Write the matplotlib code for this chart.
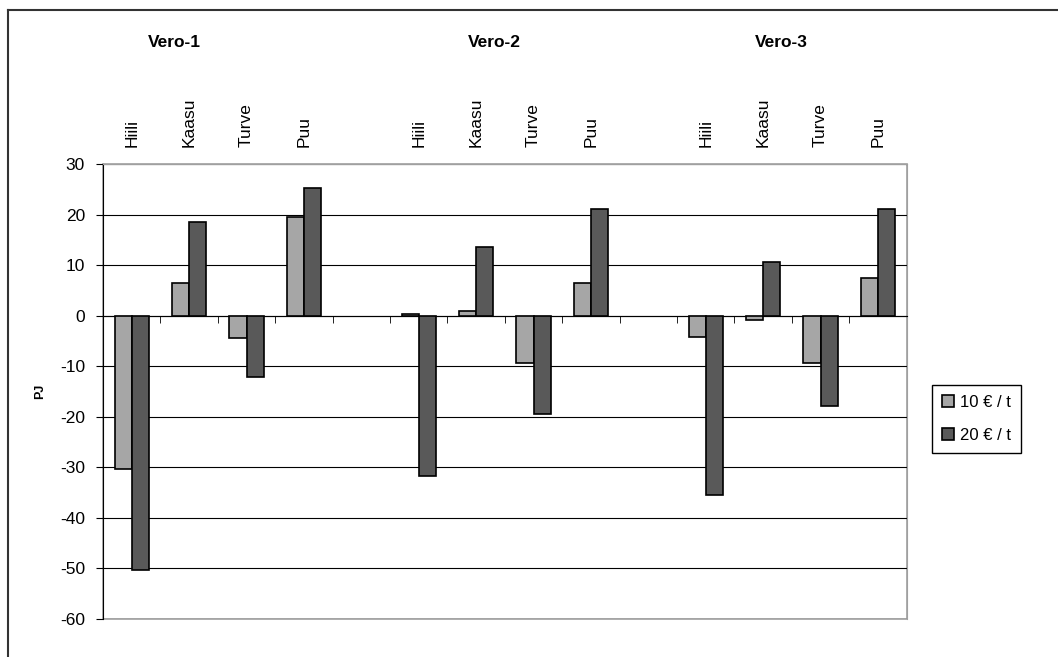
import matplotlib.pyplot as plt
import numpy as np
from matplotlib.patches import Rectangle
from matplotlib.lines import Line2D

plt.rcParams['font.family'] = ['Liberation Sans', 'DejaVu Sans']
plt.rcParams['axes.unicode_minus'] = False

vero = ['Vero-1', 'Vero-2', 'Vero-3']
polttoaine = ['Hiili', 'Kaasu', 'Turve', 'Puu']
vero10 = [[-30.4, 6.4, -4.4, 19.5],
          [0.4, 1.0, -9.3, 6.4],
          [-4.3, -0.8, -9.3, 7.5]]
vero20 = [[-50.4, 18.5, -12.2, 25.2],
          [-31.8, 13.5, -19.4, 21.1],
          [-35.4, 10.7, -17.9, 21.1]]
sarjat = ['10 € / t', '20 € / t']

fig = plt.figure(figsize=(10.58, 6.57), dpi=100)
ax = fig.add_axes([0.0974, 0.0578, 0.7596, 0.6926])

# kategoriat: 4 polttoainetta + tyhjä väli jokaisen veron välissä
x = []
labels = []
for g in range(len(vero)):
    for i, p in enumerate(polttoaine):
        x.append(g * 5 + i)
        labels.append(p)
x = np.array(x)
v10 = np.array(vero10).ravel()
v20 = np.array(vero20).ravel()

w = 0.3
ax.bar(x - w / 2, v10, width=w, color='#a6a6a6', edgecolor='black', linewidth=1.2,
       label=sarjat[0], zorder=3)
ax.bar(x + w / 2, v20, width=w, color='#595959', edgecolor='black', linewidth=1.2,
       label=sarjat[1], zorder=3)

ax.set_xlim(-0.5, 13.5)
ax.set_ylim(-60, 30)
ax.set_yticks(np.arange(-60, 31, 10))
ax.yaxis.grid(True, color='black', linewidth=0.8)
ax.set_axisbelow(True)

# x-akseli nollatasolla, luokkien nimet ylhäällä pystyssä
ax.spines['bottom'].set_position(('data', 0))
ax.spines['bottom'].set_color('black')
ax.spines['left'].set_color('black')
for s in ['top', 'right']:
    ax.spines[s].set_color('#a0a0a0')
ax.add_patch(Rectangle((0, 0), 1, 1, transform=ax.transAxes, fill=False,
                       edgecolor='#a0a0a0', linewidth=1.2, clip_on=False, zorder=0))

ax.set_xticks(x)
ax.set_xticklabels(labels)
ax.set_xticks(np.arange(-0.5, 14, 1), minor=True)
ax.tick_params(axis='x', which='major', bottom=False, top=False,
               labelbottom=False, labeltop=True, labelrotation=90, labelsize=12.5, pad=9)
ax.tick_params(axis='x', which='minor', direction='out', length=5, color='black')
ax.tick_params(axis='y', direction='out', length=5, labelsize=12.5, pad=8, color='black')

ax.set_ylabel('PJ', fontsize=9, fontweight='bold', labelpad=10)

# verojen otsikot
for g, nimi in enumerate(vero):
    xpos = 0.745 if g == 0 else g * 5 + 1.31
    ax.text(xpos, 1.268, nimi, transform=ax.get_xaxis_transform(), ha='center',
            va='center', fontsize=12.5, fontweight='bold')

fig.legend(loc='upper left', bbox_to_anchor=(0.881, 0.414), fancybox=False,
           edgecolor='black', framealpha=1, fontsize=12, handlelength=0.7,
           handleheight=0.7, handletextpad=0.4, labelspacing=1.05, borderpad=0.6,
           borderaxespad=0)

# kaavion ulkoreunus
fig.add_artist(Line2D([8 / 1058, 1.0], [1 - 10 / 657, 1 - 10 / 657],
                      transform=fig.transFigure, color='#333333', linewidth=1.5))
fig.add_artist(Line2D([8 / 1058, 8 / 1058], [0.0, 1 - 10 / 657],
                      transform=fig.transFigure, color='#333333', linewidth=1.5))

fig.savefig('out.png', dpi=100)
